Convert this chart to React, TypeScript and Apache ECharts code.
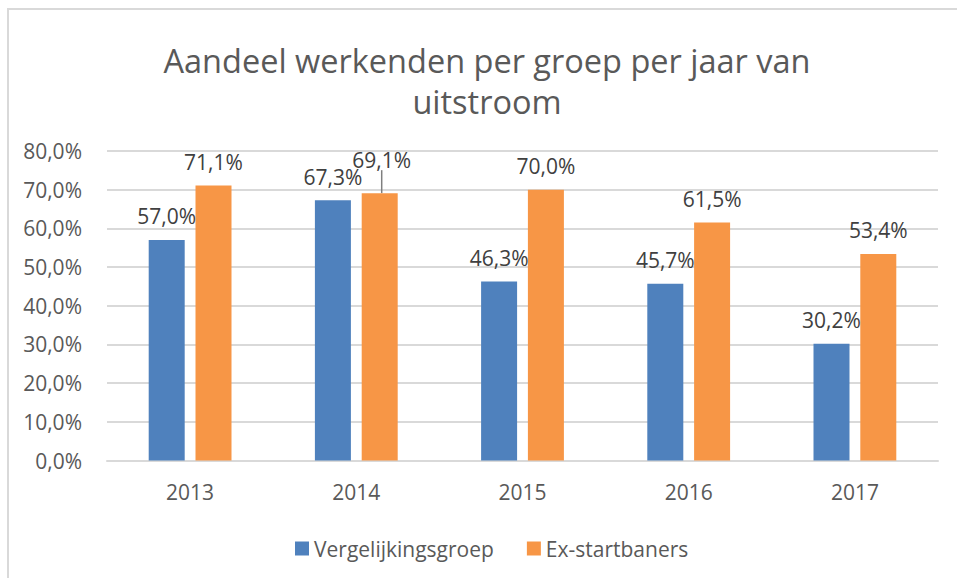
import React, { useEffect, useRef } from "react";
import * as echarts from "echarts";

const categories = ["2013", "2014", "2015", "2016", "2017"];
const vergelijkingsgroep = [57.0, 67.3, 46.3, 45.7, 30.2];
const exStartbaners = [71.1, 69.1, 70.0, 61.5, 53.4];
const seriesNames = ["Vergelijkingsgroep", "Ex-startbaners"];
const titleLines = ["Aandeel werkenden per groep per jaar van", "uitstroom"];

const FONT = "'Open Sans', 'Noto Sans', sans-serif";
const fmt = (v: number) => v.toFixed(1).replace(".", ",") + "%";

export default function App() {
  const ref = useRef<HTMLDivElement>(null);
  useEffect(() => {
    if (!ref.current) return;
    const chart = echarts.init(ref.current, undefined, { renderer: "svg" });
    const labelBase = {
      show: true,
      position: "top" as const,
      distance: 13,
      fontSize: 21,
      fontFamily: FONT,
      color: "#404040",
      formatter: (p: any) => fmt(p.value),
    };
    chart.setOption({
      animation: false,
      backgroundColor: "#ffffff",
      textStyle: { fontFamily: FONT },
      graphic: [
        {
          type: "rect",
          shape: { x: 8, y: 9, width: 1100, height: 800 },
          style: { fill: "none", stroke: "#D9D9D9", lineWidth: 2 },
          silent: true,
        },
        {
          type: "text",
          x: 487,
          y: 40,
          style: {
            text: titleLines.join("\n"),
            fontSize: 32.5,
            lineHeight: 41,
            fontFamily: FONT,
            fill: "#595959",
            textAlign: "center",
            textVerticalAlign: "top",
          },
        },
      ],
      legend: {
        left: 290,
        top: 533,
        itemWidth: 14,
        itemHeight: 14,
        itemGap: 33,
        icon: "rect",
        textStyle: { fontSize: 21, color: "#595959", fontFamily: FONT },
        data: seriesNames,
      },
      grid: { left: 107, right: 19, top: 151, bottom: 117.5 },
      xAxis: {
        type: "category",
        data: categories,
        axisLine: { lineStyle: { color: "#D9D9D9", width: 2 } },
        axisTick: { show: false },
        axisLabel: { fontSize: 21, color: "#595959", margin: 21, fontFamily: FONT },
      },
      yAxis: {
        type: "value",
        min: 0,
        max: 80,
        interval: 10,
        axisLine: { show: false },
        axisTick: { show: false },
        splitLine: { lineStyle: { color: "#D9D9D9", width: 2 } },
        axisLabel: {
          fontSize: 21,
          color: "#595959",
          margin: 25,
          fontFamily: FONT,
          formatter: (v: number) => fmt(v),
        },
      },
      series: [
        {
          name: seriesNames[0],
          type: "bar",
          data: vergelijkingsgroep,
          barWidth: 36,
          barGap: "30%",
          itemStyle: { color: "#4F81BD" },
          label: labelBase,
        },
        {
          name: seriesNames[1],
          type: "bar",
          data: exStartbaners.map((v, i) =>
            i === 1 ? { value: v, labelLine: { show: true } } : { value: v }
          ),
          barWidth: 36,
          itemStyle: { color: "#F79646" },
          label: labelBase,
          labelLine: { show: false, lineStyle: { color: "#7F7F7F", width: 1.5 } },
          labelLayout: (p: any) => (p.dataIndex === 1 ? { dy: -10, dx: 2 } : {}),
        },
      ],
    });
    return () => chart.dispose();
  }, []);
  return (
    <div
      ref={ref}
      style={{ position: "absolute", left: 0, top: 0, width: 957, height: 578 }}
    />
  );
}
